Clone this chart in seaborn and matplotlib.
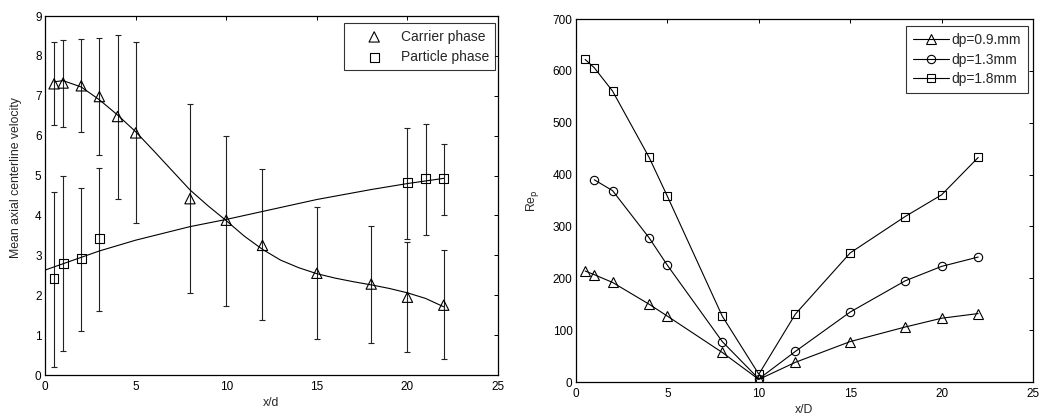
import matplotlib
matplotlib.use("Agg")
import matplotlib.pyplot as plt
import seaborn as sns
import numpy as np
import pandas as pd

# ---------------- data: left panel ----------------
carrier_x = [0.5, 1, 2, 3, 4, 5, 8, 10, 12, 15, 18, 20, 22]
carrier_y = [7.30, 7.32, 7.25, 6.98, 6.48, 6.07, 4.42, 3.88, 3.25, 2.55, 2.28, 1.95, 1.75]
carrier_hi = [8.35, 8.40, 8.42, 8.45, 8.52, 8.35, 6.80, 5.98, 5.17, 4.22, 3.74, 3.33, 3.13]
carrier_lo = [6.28, 6.23, 6.08, 5.52, 4.42, 3.82, 2.05, 1.73, 1.37, 0.90, 0.81, 0.58, 0.40]

particle_x = [0.5, 1, 2, 3, 20, 21, 22]
particle_y = [2.42, 2.80, 2.92, 3.42, 4.82, 4.92, 4.92]
particle_hi = [4.60, 5.00, 4.70, 5.20, 6.20, 6.30, 5.80]
particle_lo = [0.20, 0.60, 1.10, 1.60, 3.40, 3.52, 4.00]

# fitted curves
carrier_fit_x = [0.5, 1, 2, 3, 4, 5, 6, 7, 8, 9, 10, 11, 12, 13, 14, 15, 16, 17, 18, 19, 20, 21, 22]
carrier_fit_y = [7.35, 7.38, 7.22, 6.90, 6.52, 6.10, 5.62, 5.13, 4.64, 4.24, 3.87, 3.48, 3.15, 2.88, 2.69, 2.54, 2.43, 2.34, 2.26, 2.17, 2.06, 1.92, 1.71]
particle_fit_x = [0, 3, 5, 8, 10, 12, 15, 18, 20, 22]
particle_fit_y = [2.63, 3.11, 3.38, 3.72, 3.90, 4.10, 4.40, 4.65, 4.80, 4.93]

# ---------------- data: right panel ----------------
rep_x_09 = [0.5, 1, 2, 4, 5, 8, 10, 12, 15, 18, 20, 22]
rep_y_09 = [214, 207, 192, 150, 127, 57, 5, 38, 78, 106, 123, 132]
rep_x_13 = [1, 2, 4, 5, 8, 10, 12, 15, 18, 20, 22]
rep_y_13 = [390, 369, 278, 225, 78, 6, 59, 135, 195, 223, 241]
rep_x_18 = [0.5, 1, 2, 4, 5, 8, 10, 12, 15, 18, 20, 22]
rep_y_18 = [622, 606, 561, 433, 358, 127, 15, 131, 249, 319, 361, 433]
series_labels = ["dp=0.9.mm", "dp=1.3mm", "dp=1.8mm"]

sns.set_theme(style="white")
plt.rcParams['font.family'] = ['Liberation Sans', 'DejaVu Sans']
plt.rcParams['font.size'] = 8.5

fig = plt.figure(figsize=(10.42, 4.17), dpi=100)
ax1 = fig.add_axes([0.0432, 0.1007, 0.4348, 0.8609])
ax2 = fig.add_axes([0.5528, 0.0839, 0.4386, 0.8705])

mk = dict(facecolors='none', edgecolor='black', linewidth=0.8)

# ---- left panel ----
cy = np.array(carrier_y)
ax1.errorbar(carrier_x, cy, yerr=[cy - np.array(carrier_lo), np.array(carrier_hi) - cy],
             fmt='none', ecolor='#222222', elinewidth=0.8, capsize=2.5, capthick=0.8, zorder=1)
py = np.array(particle_y)
ax1.errorbar(particle_x, py, yerr=[py - np.array(particle_lo), np.array(particle_hi) - py],
             fmt='none', ecolor='#222222', elinewidth=0.8, capsize=2.5, capthick=0.8, zorder=1)

sns.lineplot(x=carrier_fit_x, y=carrier_fit_y, ax=ax1, color='black', linewidth=0.8, sort=False)
sns.lineplot(x=particle_fit_x, y=particle_fit_y, ax=ax1, color='black', linewidth=0.8, sort=False)
sns.scatterplot(x=carrier_x, y=carrier_y, ax=ax1, marker='^', s=55, label='Carrier phase', zorder=3, **mk)
sns.scatterplot(x=particle_x, y=particle_y, ax=ax1, marker='s', s=40, label='Particle phase', zorder=3, **mk)

ax1.set_xlim(0, 25)
ax1.set_ylim(0, 9)
ax1.set_xticks([0, 5, 10, 15, 20, 25])
ax1.set_yticks(range(0, 10))
ax1.set_xlabel('x/d', fontsize=8.8, labelpad=3)
ax1.set_ylabel('Mean axial centerline velocity', fontsize=8.8)
ax1.yaxis.set_label_coords(-0.051, 0.55)
leg1 = ax1.legend(loc='upper right', bbox_to_anchor=(0.9934, 0.9797), borderaxespad=0,
                  frameon=True, fancybox=False, edgecolor='black',
                  fontsize=10, handlelength=3.4, handletextpad=0.2, borderpad=0.45,
                  labelspacing=0.45)
leg1.get_frame().set_linewidth(0.8)

# ---- right panel ----
for xs, ys, m, ms, lab in [(rep_x_09, rep_y_09, '^', 7, series_labels[0]),
                           (rep_x_13, rep_y_13, 'o', 6, series_labels[1]),
                           (rep_x_18, rep_y_18, 's', 6.2, series_labels[2])]:
    sns.lineplot(x=xs, y=ys, ax=ax2, color='black', linewidth=0.8, marker=m,
                 markersize=ms, markerfacecolor='none',
                 markeredgecolor='black', markeredgewidth=0.8, label=lab, sort=False)

ax2.set_xlim(0, 25)
ax2.set_ylim(0, 700)
ax2.set_xticks([0, 5, 10, 15, 20, 25])
ax2.set_yticks(range(0, 701, 100))
ax2.set_xlabel('x/D', fontsize=8.8, labelpad=3)
ax2.set_ylabel(r'Re$_\mathrm{p}$', fontsize=8.8)
ax2.yaxis.set_label_coords(-0.076, 0.5)
leg2 = ax2.legend(loc='upper right', bbox_to_anchor=(0.989, 0.9807), borderaxespad=0,
                  frameon=True, fancybox=False, edgecolor='black',
                  fontsize=10, handlelength=2.6, handletextpad=0.2, borderpad=0.5,
                  labelspacing=0.4)
leg2.get_frame().set_linewidth(0.8)

for ax in (ax1, ax2):
    for sp in ax.spines.values():
        sp.set_color('black')
        sp.set_linewidth(0.9)
        sp.set_visible(True)
    ax.tick_params(direction='in', top=True, right=True, length=3, width=0.7,
                   labelsize=8.5, colors='black')
    ax.tick_params(axis='x', pad=4.5)
    ax.tick_params(axis='y', pad=2.5)
    ax.grid(False)

fig.savefig('out.png', dpi=100)
